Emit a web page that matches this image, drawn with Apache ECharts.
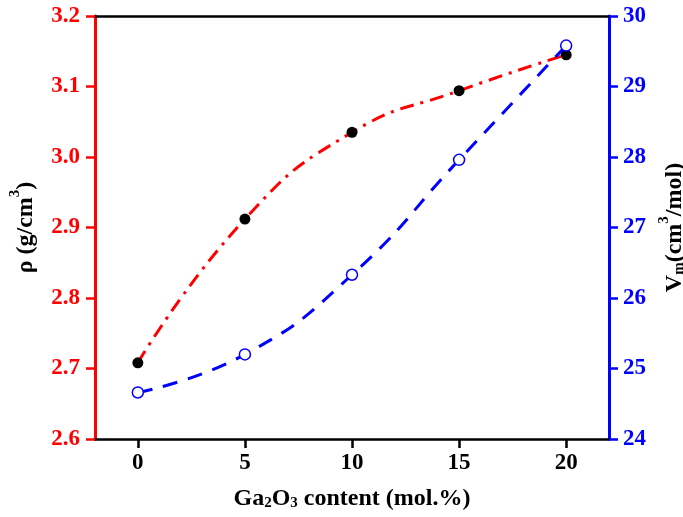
<!DOCTYPE html>
<html>
<head>
<meta charset="utf-8">
<script src="https://cdn.jsdelivr.net/npm/echarts@6/dist/echarts.min.js"></script>
<style>html,body{margin:0;padding:0;background:#fff}#c{width:683px;height:517px}</style>
</head>
<body>
<div id="c"></div>
<script>
const ga2o3 = [0, 5, 10, 15, 20];
const density = [2.708, 2.912, 3.035, 3.094, 3.145];
const molarVolume = [24.66, 25.20, 26.33, 27.96, 29.58];
const xTicks = [0, 5, 10, 15, 20];

const FONT = 'Liberation Serif';
const chart = echarts.init(document.getElementById('c'), null, {renderer: 'canvas'});
const nameRich = {
  b: {fontFamily: FONT, fontWeight: 'bold', fontSize: 24, color: '#000', lineHeight: 30, verticalAlign: 'bottom'},
  sup: {fontFamily: FONT, fontWeight: 'bold', fontSize: 15, color: '#000', lineHeight: 15, verticalAlign: 'top'},
  sub: {fontFamily: FONT, fontWeight: 'bold', fontSize: 15, color: '#000', lineHeight: 15, verticalAlign: 'bottom'}
};
chart.setOption({
  animation: false,
  backgroundColor: '#fff',
  grid: {left: 95, right: 74, top: 16, bottom: 78, containLabel: false, outerBoundsMode: 'none'},
  xAxis: [{
    type: 'value', min: -2, max: 22, position: 'bottom',
    axisLine: {onZero: false, lineStyle: {color: '#000', width: 2.5}},
    axisTick: {show: true, inside: false, length: 9, lineStyle: {color: '#000', width: 2.5}, customValues: xTicks},
    axisLabel: {customValues: xTicks, margin: 13, color: '#000', fontFamily: FONT, fontWeight: 'bold', fontSize: 23},
    splitLine: {show: false},
    name: '{b|Ga}{sub|2}{b|O}{sub|3}{b| content (mol.%)}',
    nameLocation: 'middle', nameGap: 42,
    nameTextStyle: {rich: nameRich}
  }, {
    type: 'value', min: -2, max: 22, position: 'top',
    axisLine: {onZero: false, lineStyle: {color: '#000', width: 2.5}},
    axisTick: {show: false}, axisLabel: {show: false}, splitLine: {show: false}
  }],
  yAxis: [{
    type: 'value', min: 2.6, max: 3.2, interval: 0.1, position: 'left',
    axisLine: {show: true, onZero: false, lineStyle: {color: '#ff0000', width: 3}},
    axisTick: {show: true, inside: false, length: 9, lineStyle: {color: '#ff0000', width: 2.5}},
    axisLabel: {margin: 15, color: '#ff0000', fontFamily: FONT, fontWeight: 'bold', fontSize: 23, formatter: v => v.toFixed(1)},
    splitLine: {show: false},
    name: '{b|ρ (g/cm}{sup|3}{b|)}',
    nameLocation: 'middle', nameGap: 57, nameRotate: 90,
    nameTextStyle: {rich: nameRich}
  }, {
    type: 'value', min: 24, max: 30, interval: 1, position: 'right',
    axisLine: {show: true, onZero: false, lineStyle: {color: '#0000ff', width: 3}},
    axisTick: {show: true, inside: false, length: 9, lineStyle: {color: '#0000ff', width: 2.5}},
    axisLabel: {margin: 14, color: '#0000ff', fontFamily: FONT, fontWeight: 'bold', fontSize: 23},
    splitLine: {show: false},
    name: '{b|V}{sub|m}{b|(cm}{sup|3}{b|/mol)}',
    nameLocation: 'middle', nameGap: 44, nameRotate: 90,
    nameTextStyle: {rich: nameRich}
  }],
  series: [{
    type: 'line', xAxisIndex: 0, yAxisIndex: 0,
    data: ga2o3.map((x, i) => [x, density[i]]),
    smooth: 0.5,
    lineStyle: {color: '#ff0000', width: 3, type: [14, 7, 3, 7]},
    symbol: 'circle', symbolSize: 11,
    itemStyle: {color: '#000', borderColor: '#000', borderWidth: 0},
    z: 3
  }, {
    type: 'line', xAxisIndex: 0, yAxisIndex: 1,
    data: ga2o3.map((x, i) => [x, molarVolume[i]]),
    smooth: 0.5,
    lineStyle: {color: '#0000ff', width: 3, type: [15, 11]},
    symbol: 'circle', symbolSize: 11,
    itemStyle: {color: '#fff', borderColor: '#0000ff', borderWidth: 1.5},
    z: 4
  }]
});
</script>
</body>
</html>
